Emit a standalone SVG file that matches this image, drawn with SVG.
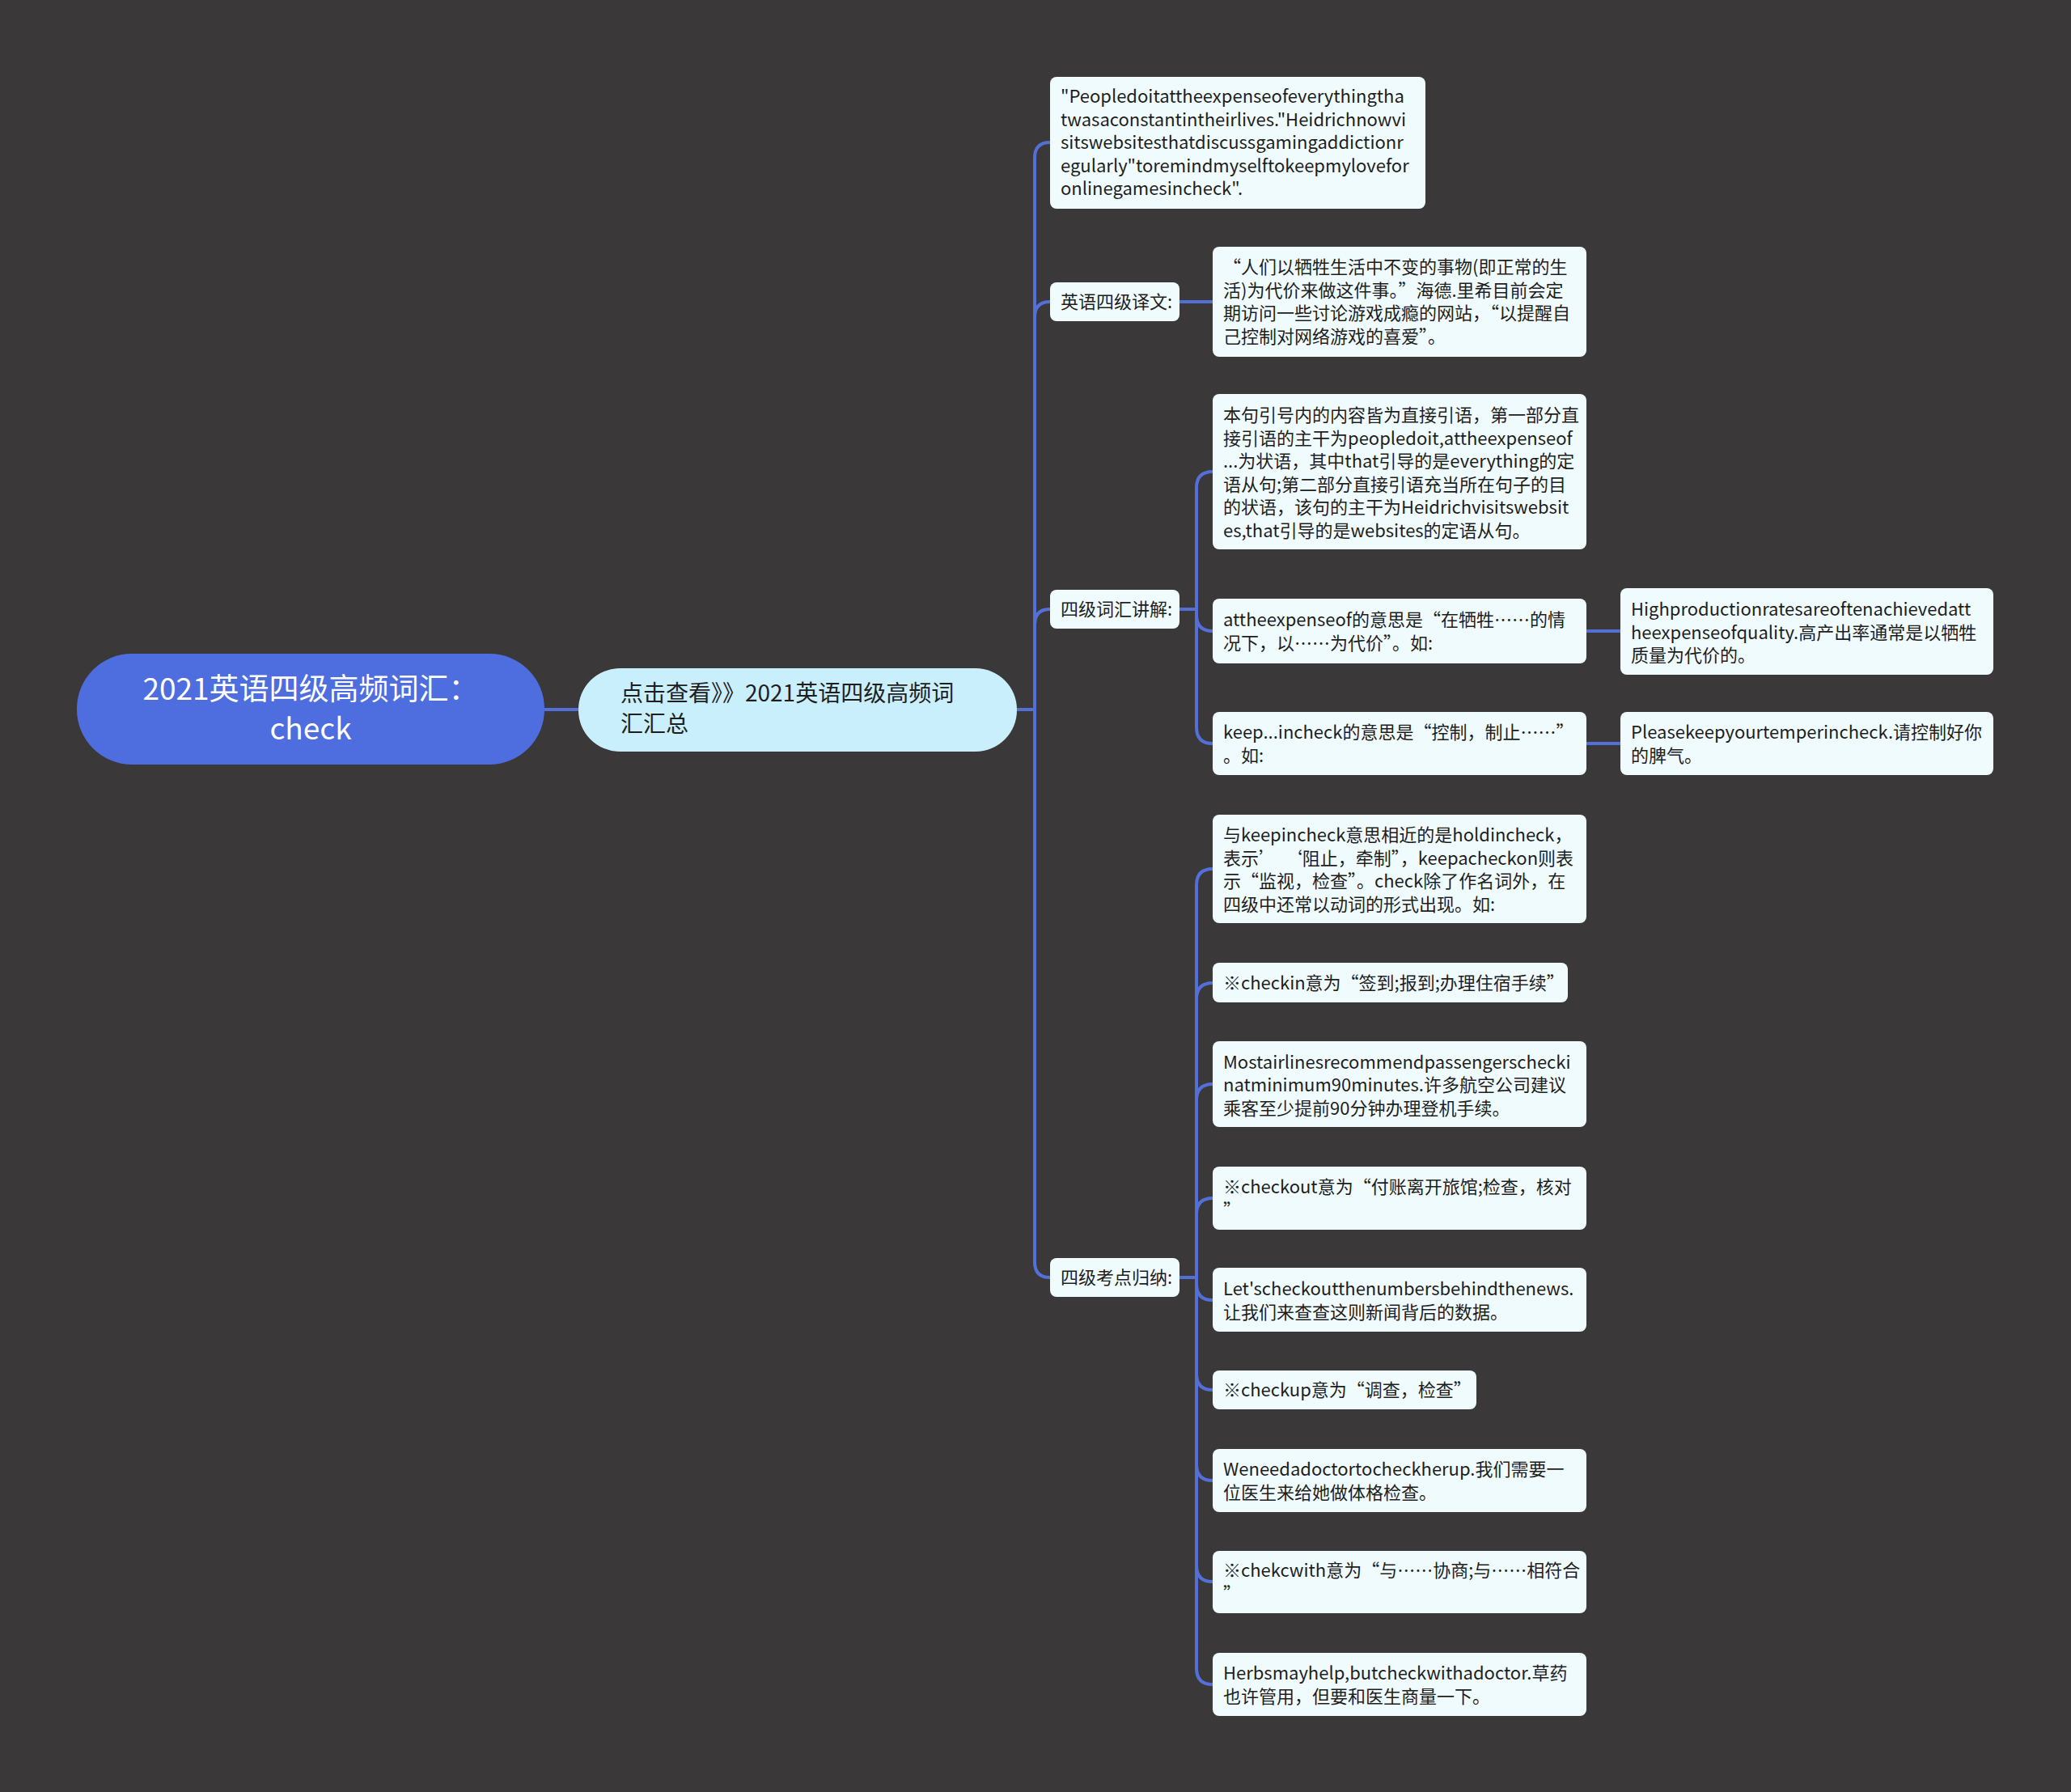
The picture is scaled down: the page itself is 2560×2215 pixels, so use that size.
<svg xmlns="http://www.w3.org/2000/svg" width="2560" height="2215" viewBox="0 0 2560 2215">
<style>
.n{fill:#f0fbfd;}
.t{font-family:"Noto Sans CJK SC","Noto Sans",sans-serif;font-size:22px;fill:#1e1e1e;}
.c{fill:none;stroke:#5470d8;stroke-width:4;}
</style>
<rect x="0" y="0" width="2560" height="2215" fill="#3a3839"/>
<g id="connectors">
<path class="c" d="M673 877 H715"/>
<path class="c" d="M1257 877 H1279"/>
<path class="c" d="M1279 877 V195 Q1279 176 1298 176"/>
<path class="c" d="M1279 877 V392 Q1279 373 1298 373"/>
<path class="c" d="M1279 877 V772 Q1279 753 1298 753"/>
<path class="c" d="M1279 877 V1560 Q1279 1579 1298 1579"/>
<path class="c" d="M1458 373 H1499"/>
<path class="c" d="M1458 753 H1479 V603 Q1479 583 1499 583"/>
<path class="c" d="M1458 753 H1479 V760 Q1479 780 1499 780"/>
<path class="c" d="M1458 753 H1479 V899 Q1479 919 1499 919"/>
<path class="c" d="M1961 780 H2003"/>
<path class="c" d="M1961 919 H2003"/>
<path class="c" d="M1458 1579 H1479 V1094 Q1479 1074 1499 1074"/>
<path class="c" d="M1479 1579 V1235 Q1479 1215 1499 1215"/>
<path class="c" d="M1479 1579 V1360 Q1479 1340 1499 1340"/>
<path class="c" d="M1479 1579 V1501 Q1479 1481 1499 1481"/>
<path class="c" d="M1479 1579 V1587 Q1479 1607 1499 1607"/>
<path class="c" d="M1479 1579 V1698 Q1479 1718 1499 1718"/>
<path class="c" d="M1479 1579 V1810 Q1479 1830 1499 1830"/>
<path class="c" d="M1479 1579 V1935 Q1479 1955 1499 1955"/>
<path class="c" d="M1479 1579 V2062 Q1479 2082 1499 2082"/>
</g>
<g id="root">
<rect x="95" y="808" width="578" height="137" rx="68" fill="#4e6ddf"/>
<text class="t" style="font-size:37px;fill:#ffffff" text-anchor="middle"><tspan x="384" y="865">2021英语四级高频词汇：</tspan><tspan x="384" y="914">check</tspan></text>
</g>
<g id="center">
<rect x="715" y="826" width="542" height="103" rx="51" fill="#c9eefc"/>
<text class="t" style="font-size:28px"><tspan x="767" y="867">点击查看》》2021英语四级高频词</tspan><tspan x="767" y="905">汇汇总</tspan></text>
</g>
<g id="quote">
<rect class="n" x="1298" y="95" width="464" height="163" rx="8"/>
<text class="t"><tspan x="1311" y="127">"Peopledoitattheexpenseofeverythingtha</tspan><tspan x="1311" y="156">twasaconstantintheirlives."Heidrichnowvi</tspan><tspan x="1311" y="184">sitswebsitesthatdiscussgamingaddictionr</tspan><tspan x="1311" y="213">egularly"toremindmyselftokeepmylovefor</tspan><tspan x="1311" y="241">onlinegamesincheck".</tspan></text>
</g>
<g id="label-translation">
<rect class="n" x="1298" y="349" width="160" height="48" rx="8"/>
<text class="t"><tspan x="1311" y="381">英语四级译文:</tspan></text>
</g>
<g id="translation">
<rect class="n" x="1499" y="305" width="462" height="136" rx="8"/>
<text class="t"><tspan x="1512" y="338">“人们以牺牲生活中不变的事物(即正常的生</tspan><tspan x="1512" y="367">活)为代价来做这件事。”海德.里希目前会定</tspan><tspan x="1512" y="395">期访问一些讨论游戏成瘾的网站，“以提醒自</tspan><tspan x="1512" y="424">己控制对网络游戏的喜爱”。</tspan></text>
</g>
<g id="label-vocab">
<rect class="n" x="1298" y="729" width="160" height="48" rx="8"/>
<text class="t"><tspan x="1311" y="761">四级词汇讲解:</tspan></text>
</g>
<g id="vocab-analysis">
<rect class="n" x="1499" y="487" width="462" height="192" rx="8"/>
<text class="t"><tspan x="1512" y="521">本句引号内的内容皆为直接引语，第一部分直</tspan><tspan x="1512" y="550">接引语的主干为peopledoit,attheexpenseof</tspan><tspan x="1512" y="578">...为状语，其中that引导的是everything的定</tspan><tspan x="1512" y="607">语从句;第二部分直接引语充当所在句子的目</tspan><tspan x="1512" y="635">的状语，该句的主干为Heidrichvisitswebsit</tspan><tspan x="1512" y="664">es,that引导的是websites的定语从句。</tspan></text>
</g>
<g id="vocab-expense">
<rect class="n" x="1499" y="740" width="462" height="80" rx="8"/>
<text class="t"><tspan x="1512" y="774">attheexpenseof的意思是“在牺牲……的情</tspan><tspan x="1512" y="803">况下，以……为代价”。如:</tspan></text>
</g>
<g id="vocab-expense-example">
<rect class="n" x="2003" y="727" width="461" height="107" rx="8"/>
<text class="t"><tspan x="2016" y="761">Highproductionratesareoftenachievedatt</tspan><tspan x="2016" y="790">heexpenseofquality.高产出率通常是以牺牲</tspan><tspan x="2016" y="818">质量为代价的。</tspan></text>
</g>
<g id="vocab-keep">
<rect class="n" x="1499" y="880" width="462" height="78" rx="8"/>
<text class="t"><tspan x="1512" y="913">keep...incheck的意思是“控制，制止……”</tspan><tspan x="1512" y="942">。如:</tspan></text>
</g>
<g id="vocab-keep-example">
<rect class="n" x="2003" y="880" width="461" height="78" rx="8"/>
<text class="t"><tspan x="2016" y="913">Pleasekeepyourtemperincheck.请控制好你</tspan><tspan x="2016" y="942">的脾气。</tspan></text>
</g>
<g id="label-points">
<rect class="n" x="1298" y="1555" width="160" height="48" rx="8"/>
<text class="t"><tspan x="1311" y="1587">四级考点归纳:</tspan></text>
</g>
<g id="p-hold">
<rect class="n" x="1499" y="1007" width="462" height="134" rx="8"/>
<text class="t" xml:space="preserve"><tspan x="1512" y="1040">与keepincheck意思相近的是holdincheck，</tspan><tspan x="1512" y="1069">表示’  ‘阻止，牵制”，keepacheckon则表</tspan><tspan x="1512" y="1097">示“监视，检查”。check除了作名词外，在</tspan><tspan x="1512" y="1126">四级中还常以动词的形式出现。如:</tspan></text>
</g>
<g id="p-checkin">
<rect class="n" x="1499" y="1190" width="439" height="49" rx="8"/>
<text class="t"><tspan x="1512" y="1223">※checkin意为“签到;报到;办理住宿手续”</tspan></text>
</g>
<g id="p-airlines">
<rect class="n" x="1499" y="1287" width="462" height="106" rx="8"/>
<text class="t"><tspan x="1512" y="1321">Mostairlinesrecommendpassengerschecki</tspan><tspan x="1512" y="1349">natminimum90minutes.许多航空公司建议</tspan><tspan x="1512" y="1378">乘客至少提前90分钟办理登机手续。</tspan></text>
</g>
<g id="p-checkout">
<rect class="n" x="1499" y="1442" width="462" height="78" rx="8"/>
<text class="t"><tspan x="1512" y="1475">※checkout意为“付账离开旅馆;检查，核对</tspan><tspan x="1512" y="1504">”</tspan></text>
</g>
<g id="p-news">
<rect class="n" x="1499" y="1567" width="462" height="79" rx="8"/>
<text class="t"><tspan x="1512" y="1601">Let'scheckoutthenumbersbehindthenews.</tspan><tspan x="1512" y="1630">让我们来查查这则新闻背后的数据。</tspan></text>
</g>
<g id="p-checkup">
<rect class="n" x="1499" y="1694" width="326" height="48" rx="8"/>
<text class="t"><tspan x="1512" y="1726">※checkup意为“调查，检查”</tspan></text>
</g>
<g id="p-doctor">
<rect class="n" x="1499" y="1791" width="462" height="78" rx="8"/>
<text class="t"><tspan x="1512" y="1824">Weneedadoctortocheckherup.我们需要一</tspan><tspan x="1512" y="1853">位医生来给她做体格检查。</tspan></text>
</g>
<g id="p-checkwith">
<rect class="n" x="1499" y="1917" width="462" height="77" rx="8"/>
<text class="t"><tspan x="1512" y="1949">※chekcwith意为“与……协商;与……相符合</tspan><tspan x="1512" y="1978">”</tspan></text>
</g>
<g id="p-herbs">
<rect class="n" x="1499" y="2043" width="462" height="78" rx="8"/>
<text class="t"><tspan x="1512" y="2076">Herbsmayhelp,butcheckwithadoctor.草药</tspan><tspan x="1512" y="2105">也许管用，但要和医生商量一下。</tspan></text>
</g>
</svg>
